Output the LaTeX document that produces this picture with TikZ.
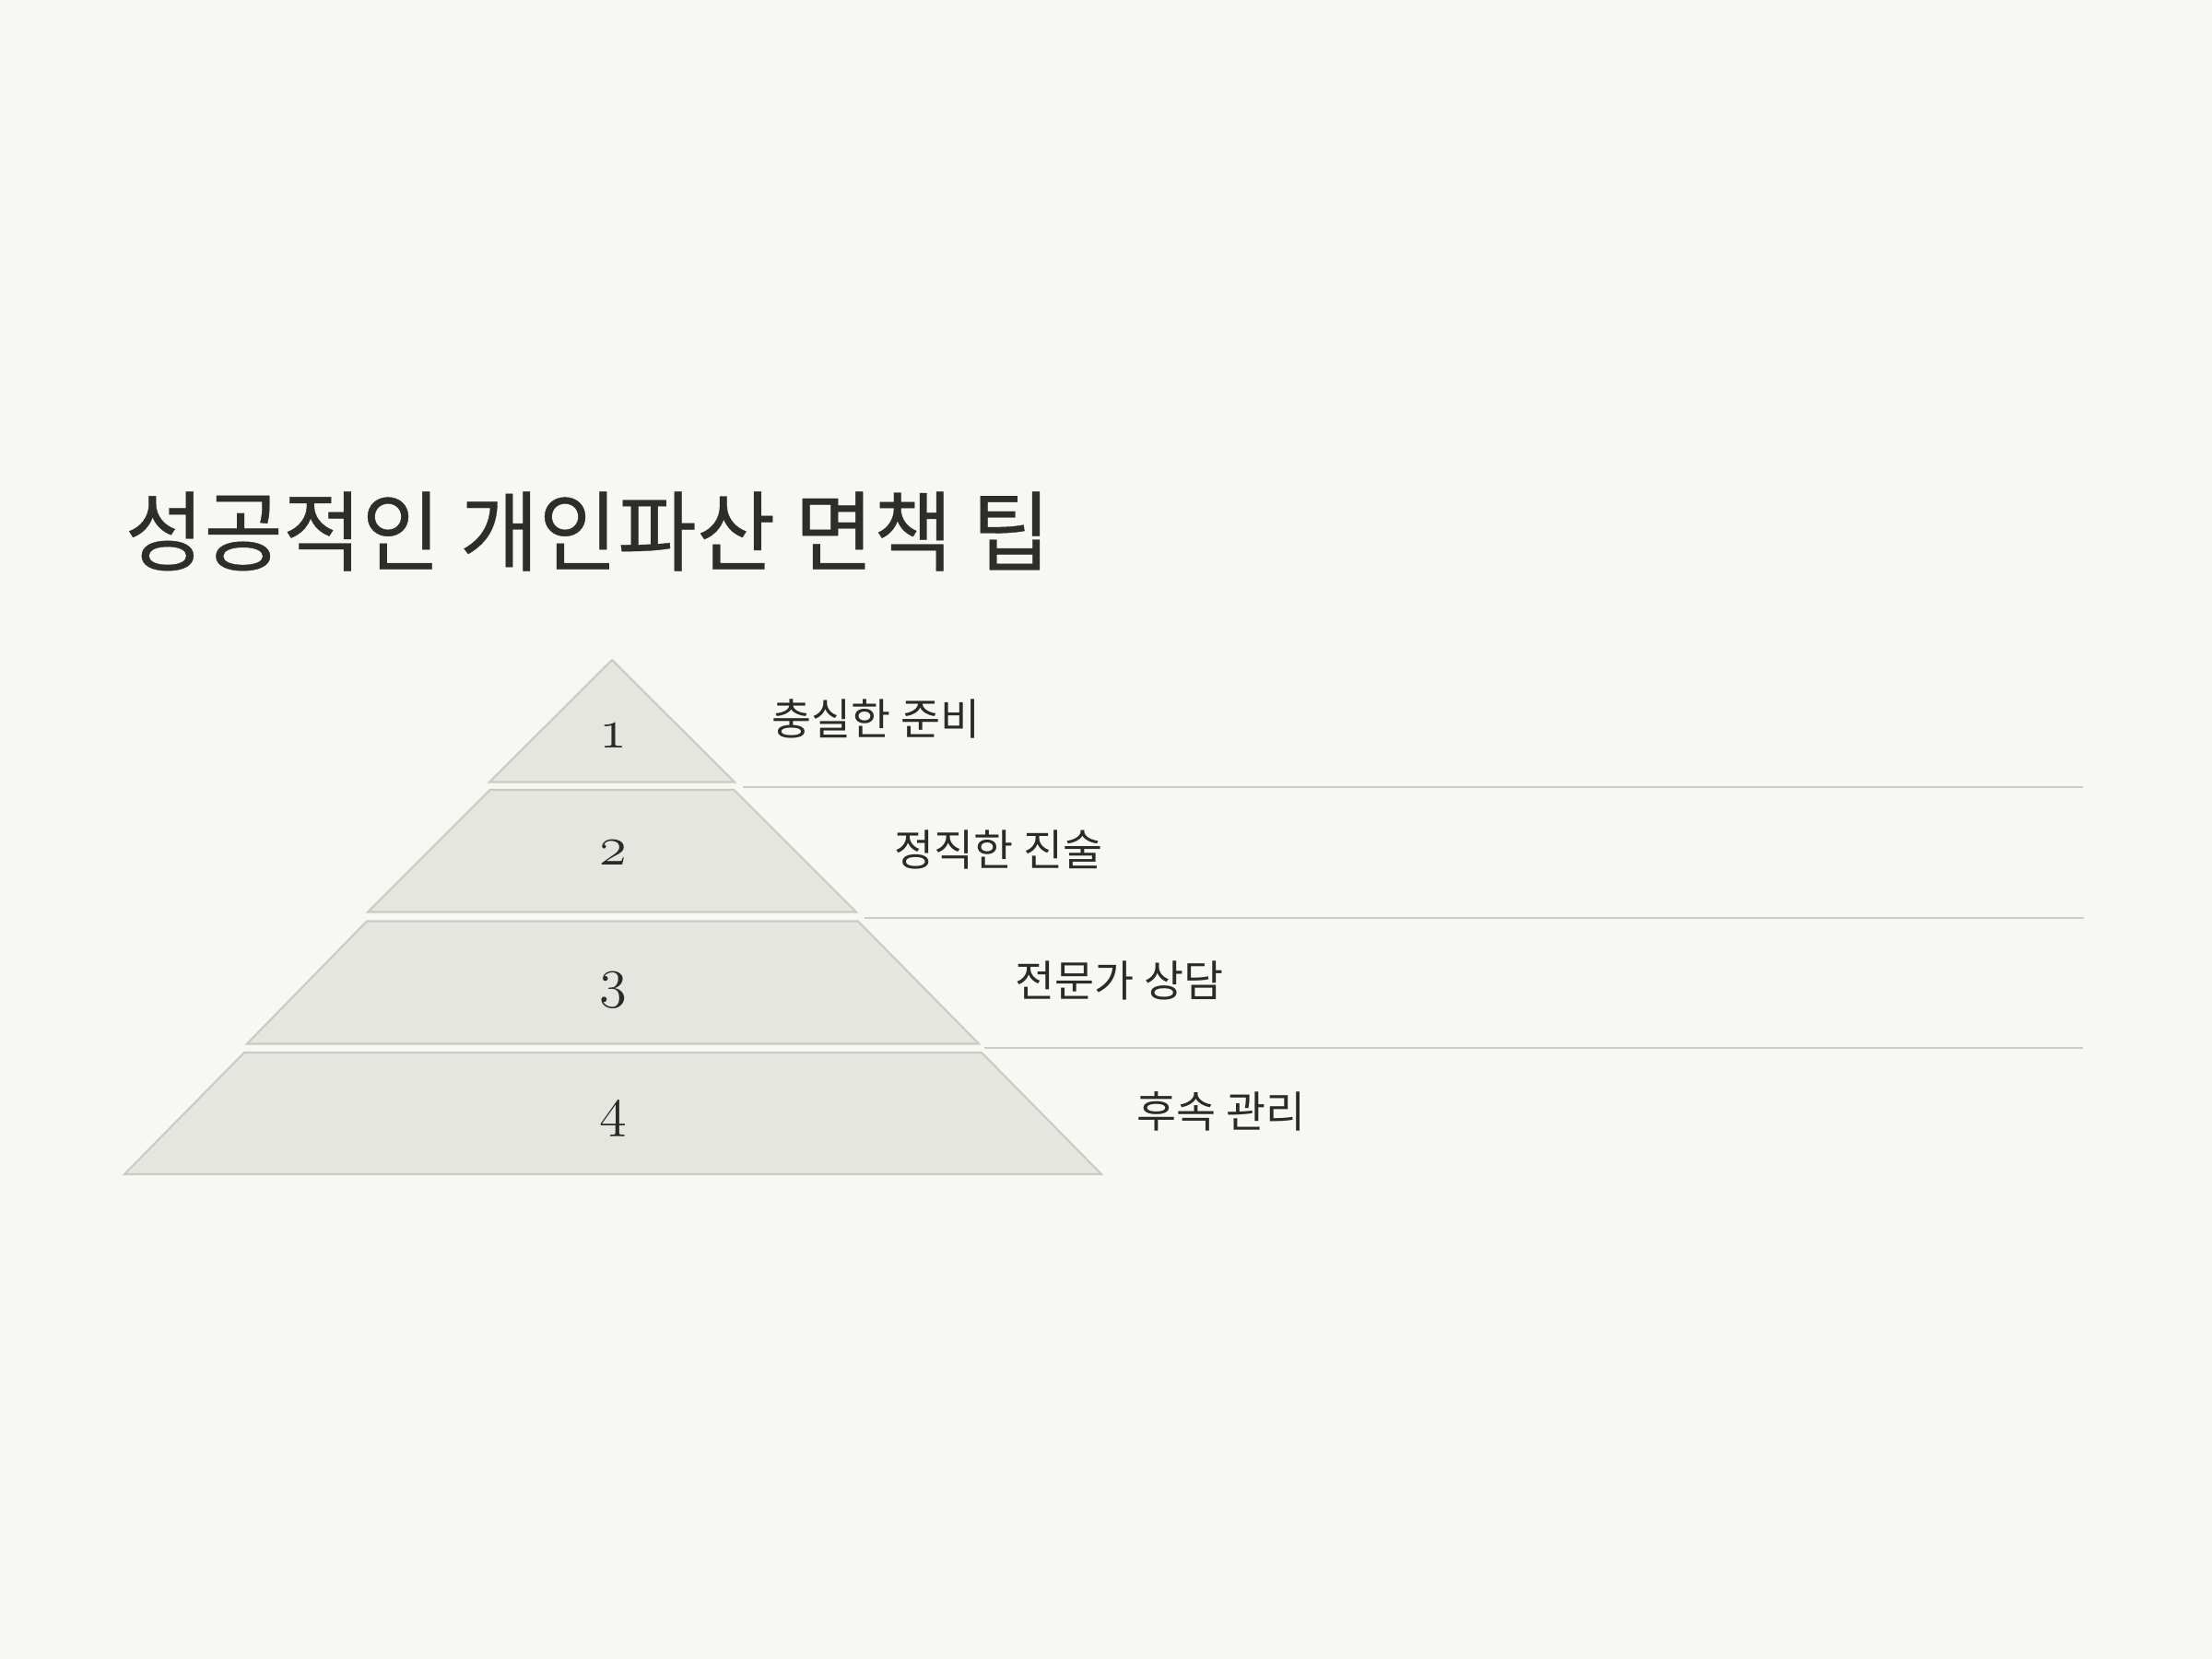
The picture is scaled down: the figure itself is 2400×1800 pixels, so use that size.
\documentclass[tikz,border=0pt]{standalone}
\usepackage{fontspec}
\newfontfamily\krfont{Noto Sans CJK KR}
\newfontfamily\krtitle[FakeStretch=0.98,FakeBold=0.4]{Noto Sans CJK KR}
\newcommand\osnum[1]{{\usefont{OML}{cmm}{m}{it}#1}}
\definecolor{bgc}{HTML}{F7F7F4}
\definecolor{tierfill}{HTML}{E6E6E1}
\definecolor{tierline}{HTML}{CBCBC4}
\definecolor{sepline}{HTML}{CDCDC6}
\definecolor{titlec}{HTML}{2E2D29}
\definecolor{textc}{HTML}{2A2A28}
\tikzset{
  tier/.style={fill=tierfill, draw=tierline, line width=0.6pt, line join=miter},
  sep/.style={draw=sepline, line width=0.6pt},
  numlabel/.style={anchor=base, inner sep=0pt, text=textc, font=\fontsize{17.5}{20}\selectfont},
  tiplabel/.style={anchor=base west, inner sep=0pt, text=textc, font=\krfont\fontsize{13.3}{16}\selectfont},
  titlelabel/.style={anchor=base west, inner sep=0pt, text=titlec, font=\krtitle\fontsize{27}{32}\selectfont}
}
\begin{document}
\begin{tikzpicture}[x=0.01cm, y=-0.01cm]
\fill[bgc] (0,0) rectangle (2400,1800);
\useasboundingbox (0,0) rectangle (2400,1800);

\node[titlelabel] (title) at (135,612) {성공적인 개인파산 면책 팁};

% pyramid tiers
\draw[tier] (664,716) -- (797,848.5) -- (531,848.5) -- cycle;
\draw[tier] (531.5,857) -- (796.5,857) -- (929,989.5) -- (399,989.5) -- cycle;
\draw[tier] (398,999.5) -- (931,999.5) -- (1062,1132.5) -- (268,1132.5) -- cycle;
\draw[tier] (265,1142) -- (1065,1142) -- (1195,1274) -- (135,1274) -- cycle;

% numbers
\node[numlabel] (n1) at (665,811) {\osnum{1}};
\node[numlabel] (n2) at (665,938) {\osnum{2}};
\node[numlabel] (n3) at (665,1081) {\osnum{3}};
\node[numlabel] (n4) at (665,1221) {\osnum{4}};

% separator lines
\coordinate (s1a) at (806,854);  \coordinate (s1b) at (2260,854);
\coordinate (s2a) at (938,996);  \coordinate (s2b) at (2261,996);
\coordinate (s3a) at (1068,1137); \coordinate (s3b) at (2260,1137);
\draw[sep] (s1a) -- (s1b);
\draw[sep] (s2a) -- (s2b);
\draw[sep] (s3a) -- (s3b);

% tips
\node[tiplabel] (t1) at (837,797.5) {충실한 준비};
\node[tiplabel] (t2) at (970,939.5) {정직한 진술};
\node[tiplabel] (t3) at (1101,1081.5) {전문가 상담};
\node[tiplabel] (t4) at (1233,1223.5) {후속 관리};
\end{tikzpicture}
\end{document}
